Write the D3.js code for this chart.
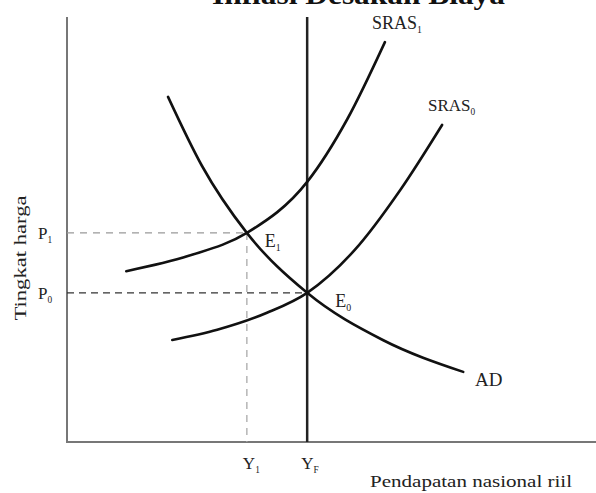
<!DOCTYPE html>
<html>
<head>
  <meta charset="UTF-8">
  <style>
    body { margin: 0; background: white; }
    svg { display: block; }
    text { font-family: "Liberation Serif", "Times New Roman", serif; fill: #222; }
  </style>
</head>
<body>

<svg></svg>
<script src="https://d3js.org/d3.v7.min.js"></script>

<script>

let width = 596, height = 493;

// curves as [x, y] in model units (0..10 on both axes)
let adCurve = [[1.91, 8.12], [2.55, 6.50], [3.40, 4.92], [4.54, 3.51], [5.97, 2.40], [7.49, 1.65]];
let sras1Curve = [[1.12, 4.02], [2.30, 4.38], [3.40, 4.92], [4.54, 6.12], [5.30, 7.60], [6.01, 9.41]];
let sras0Curve = [[1.99, 2.40], [2.84, 2.64], [3.78, 3.04], [4.54, 3.51], [5.44, 4.52],
                  [6.30, 5.93], [7.09, 7.46]];

// equilibrium values
let yF = 4.54, y1 = 3.40;
let p0 = 3.51, p1 = 4.92;

let svg = d3.select("svg")
    .attr("width", width)
    .attr("height", height);

let x = d3.scaleLinear().domain([0, 10]).range([67, 596]);
let y = d3.scaleLinear().domain([0, 10]).range([442, 17]);

let line = d3.line()
    .x(d => x(d[0]))
    .y(d => y(d[1]))
    .curve(d3.curveMonotoneX);

// Title (cut off at top, as in the scan)
svg.append("text")
    .attr("x", 212)
    .attr("y", 4)
    .attr("textLength", 293)
    .attr("lengthAdjust", "spacingAndGlyphs")
    .style("font-size", "27px")
    .style("font-weight", "bold")
    .style("fill", "#111")
    .text("Inflasi Desakan Biaya");

// axes
svg.append("line")
    .attr("x1", x(0)).attr("x2", x(0))
    .attr("y1", y(10)).attr("y2", y(0))
    .attr("stroke", "#777").attr("stroke-width", 2);
svg.append("line")
    .attr("x1", x(0) - 1).attr("x2", x(10))
    .attr("y1", y(0)).attr("y2", y(0))
    .attr("stroke", "#777").attr("stroke-width", 2);

// dashed guides
svg.append("line")
    .attr("x1", x(0)).attr("x2", x(y1))
    .attr("y1", y(p1)).attr("y2", y(p1))
    .attr("stroke", "#999").attr("stroke-width", 1.3)
    .attr("stroke-dasharray", "7,6");
svg.append("line")
    .attr("x1", x(y1)).attr("x2", x(y1))
    .attr("y1", y(p1)).attr("y2", y(0))
    .attr("stroke", "#aaa").attr("stroke-width", 1.3)
    .attr("stroke-dasharray", "7,6");
svg.append("line")
    .attr("x1", x(0)).attr("x2", x(yF))
    .attr("y1", y(p0)).attr("y2", y(p0))
    .attr("stroke", "#333").attr("stroke-width", 1.3)
    .attr("stroke-dasharray", "7,5");

// long run supply line
svg.append("line")
    .attr("x1", x(yF)).attr("x2", x(yF))
    .attr("y1", y(10)).attr("y2", y(0))
    .attr("stroke", "#222").attr("stroke-width", 2.5);

// curves
[adCurve, sras1Curve, sras0Curve].forEach(c => {
  svg.append("path")
      .attr("d", line(c))
      .attr("fill", "none")
      .attr("stroke", "#111")
      .attr("stroke-width", 2.6)
      .attr("stroke-linecap", "round");
});

// label with subscript
function subLabel(px, py, main, sub, size) {
  let t = svg.append("text")
      .attr("x", px)
      .attr("y", py)
      .style("font-size", size + "px");
  t.append("tspan").text(main);
  t.append("tspan")
      .attr("dy", 4)
      .style("font-size", (size * 0.55) + "px")
      .text(sub);
  return t;
}

subLabel(372, 29, "SRAS", "1", 18);
subLabel(428, 111, "SRAS", "0", 17);
subLabel(x(y1) + 18, y(p1) + 14, "E", "1", 18);
subLabel(x(yF) + 28, y(p0) + 14, "E", "0", 18);
subLabel(38, y(p1) + 6, "P", "1", 17);
subLabel(38, y(p0) + 6, "P", "0", 17);
subLabel(x(y1) - 4, 469, "Y", "1", 17);
subLabel(x(yF) - 6, 469, "Y", "F", 17);

svg.append("text")
    .attr("x", 475)
    .attr("y", 386)
    .style("font-size", "19px")
    .text("AD");

svg.append("text")
    .attr("x", 370)
    .attr("y", 487)
    .attr("textLength", 202)
    .attr("lengthAdjust", "spacingAndGlyphs")
    .style("font-size", "17px")
    .text("Pendapatan nasional riil");

svg.append("text")
    .attr("transform", "translate(26,258) rotate(-90)")
    .attr("text-anchor", "middle")
    .attr("textLength", 125)
    .attr("lengthAdjust", "spacingAndGlyphs")
    .style("font-size", "17px")
    .text("Tingkat harga");

</script>

</body>
</html>
